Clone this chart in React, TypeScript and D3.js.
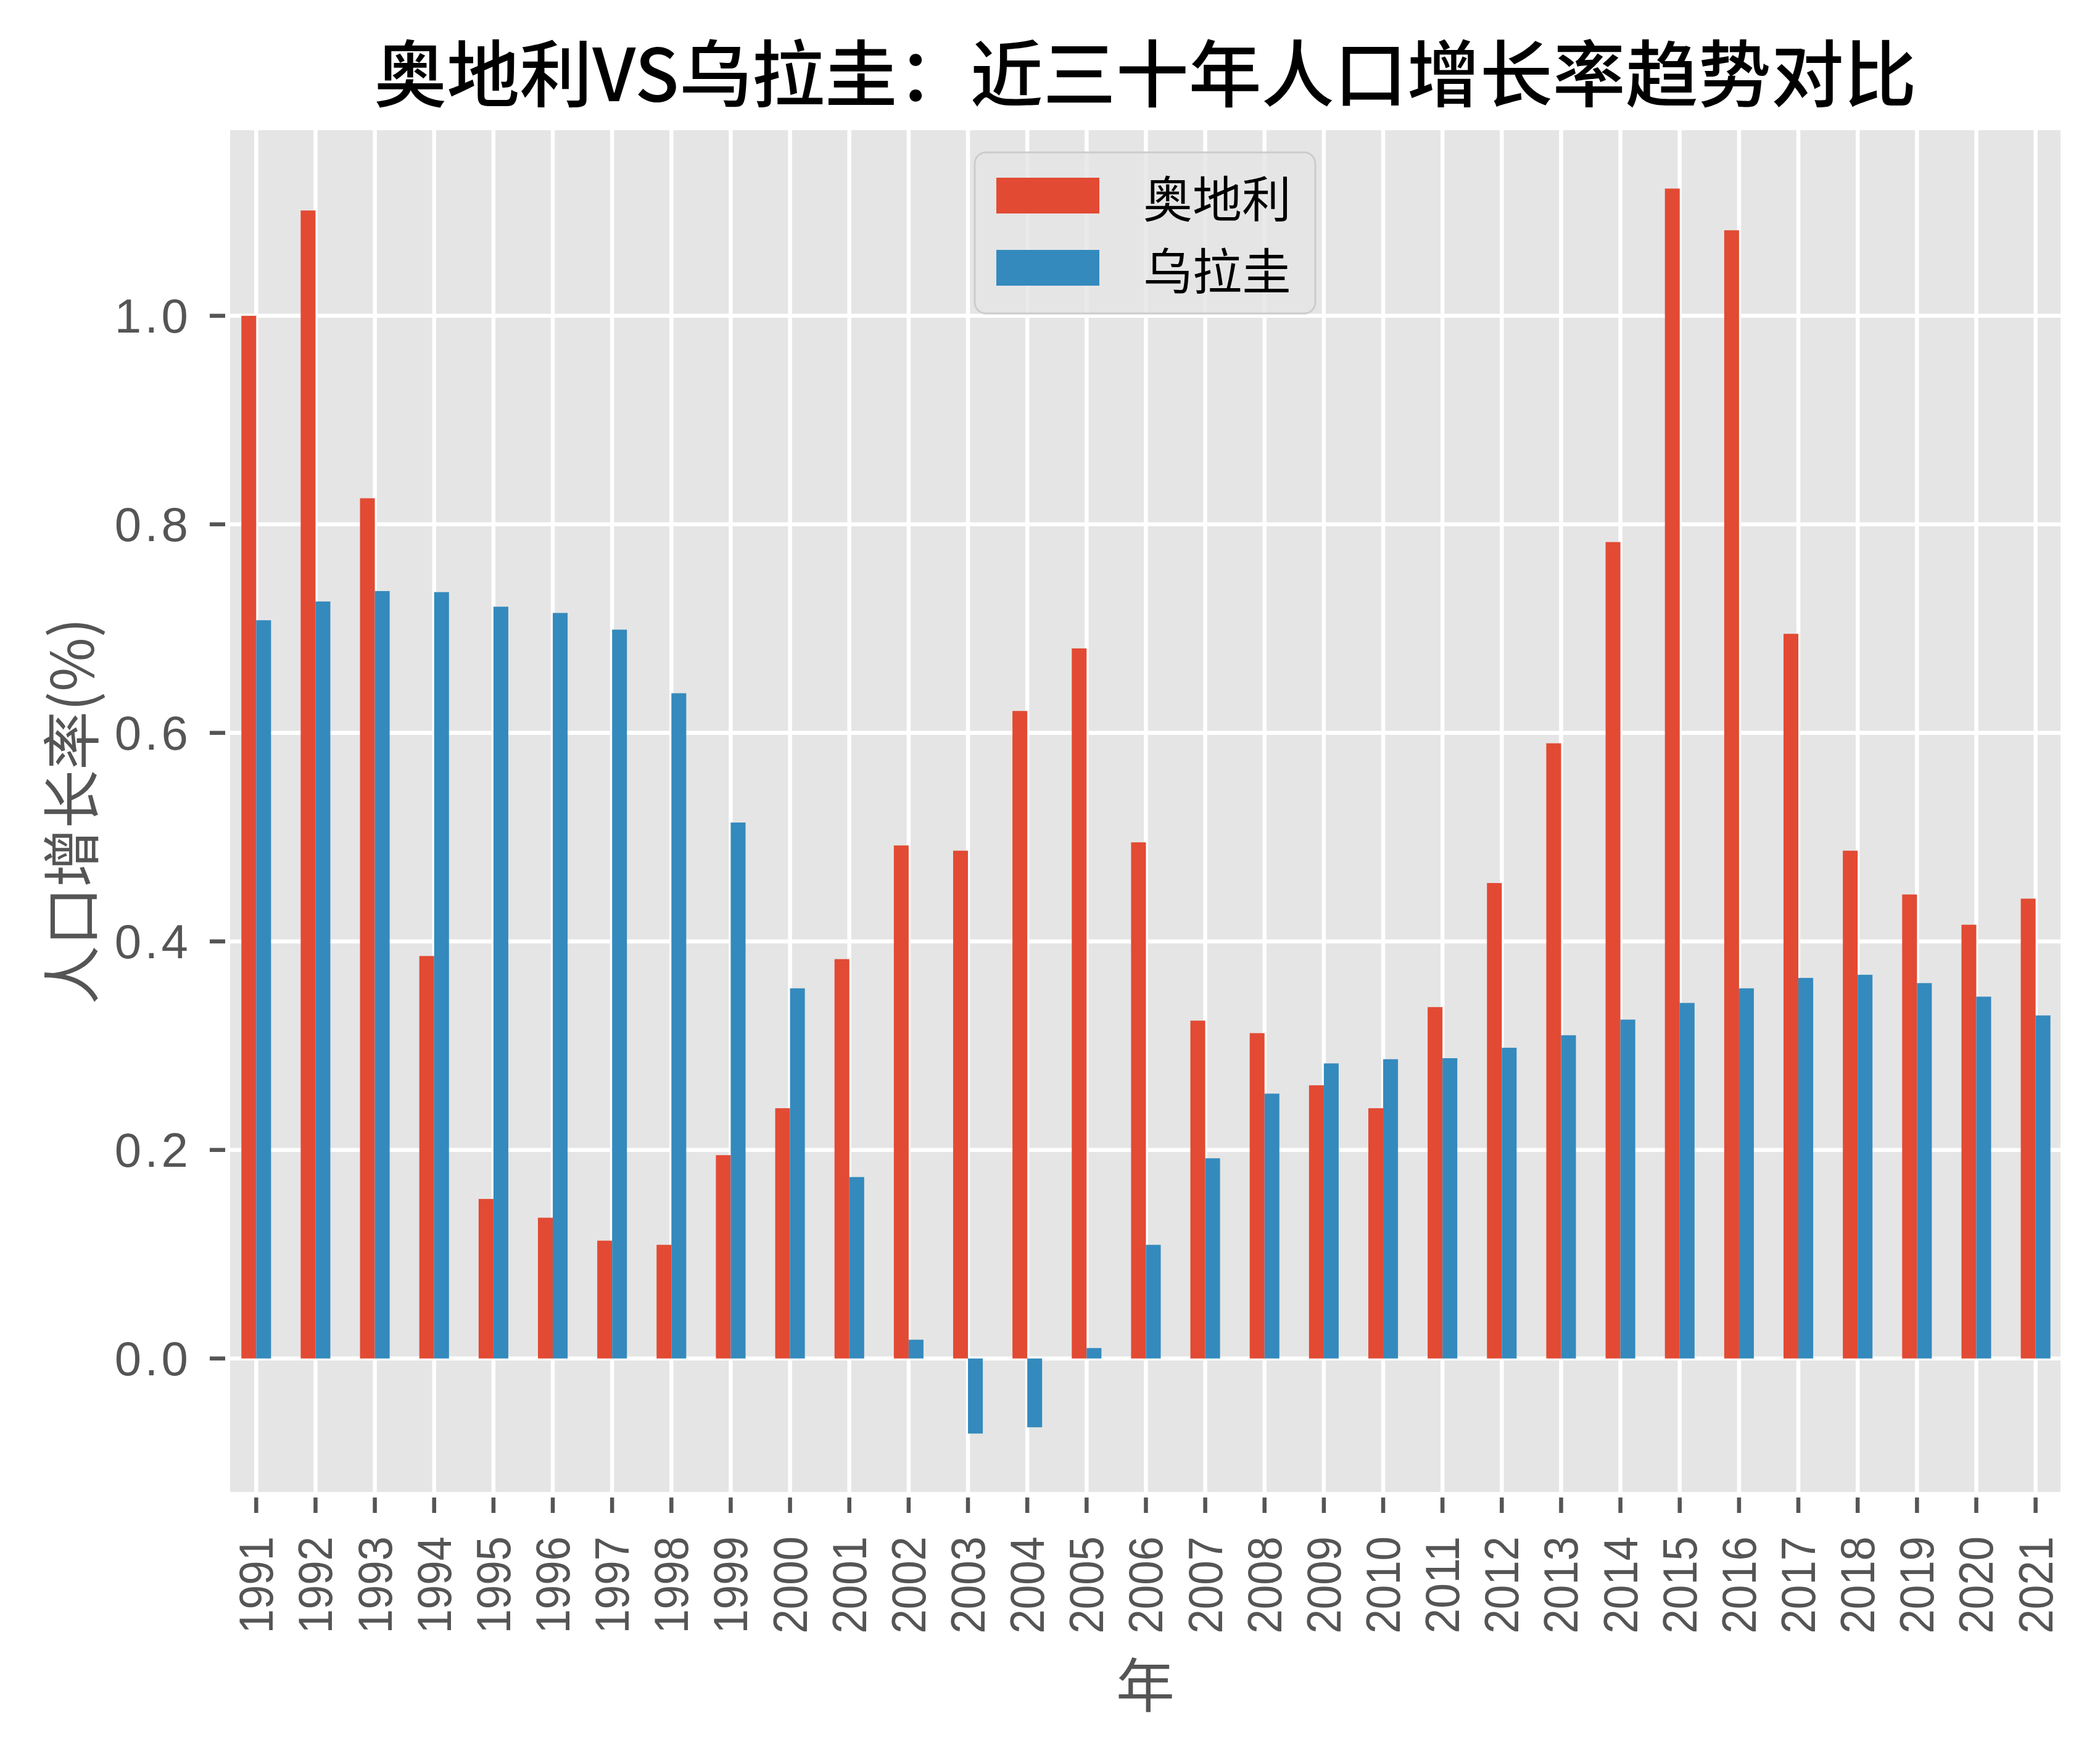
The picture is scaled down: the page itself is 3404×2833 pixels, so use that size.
import React from "react";
import * as d3 from "d3";

const years = [1991,1992,1993,1994,1995,1996,1997,1998,1999,2000,2001,2002,2003,2004,2005,2006,2007,2008,2009,2010,2011,2012,2013,2014,2015,2016,2017,2018,2019,2020,2021];
const austria = [1.0,1.101,0.825,0.386,0.153,0.135,0.113,0.109,0.195,0.240,0.383,0.492,0.487,0.621,0.681,0.495,0.324,0.312,0.262,0.240,0.337,0.456,0.590,0.783,1.122,1.082,0.695,0.487,0.445,0.416,0.441];
const uruguay = [0.708,0.726,0.736,0.735,0.721,0.715,0.699,0.638,0.514,0.355,0.174,0.018,-0.072,-0.066,0.010,0.109,0.192,0.254,0.283,0.287,0.288,0.298,0.310,0.325,0.341,0.355,0.365,0.368,0.360,0.347,0.329];
const yTicks = [0.0, 0.2, 0.4, 0.6, 0.8, 1.0];
const seriesNames = ["奥地利", "乌拉圭"];
const title = "奥地利VS乌拉圭：近三十年人口增长率趋势对比";
const xLabel = "年";
const yLabel = "人口增长率(%)";

const W = 3404, H = 2833;
const L = 373, R = 3340, T = 211, B = 2418;
const COLORS = ["#E24A33", "#348ABD"];
const CJK = "'Noto Sans CJK SC', sans-serif";
const NUM = "'Liberation Sans', Arial, sans-serif";
const TXT = "#555555";

export default function App() {
  const x = d3.scaleLinear().domain([-0.44, years.length - 1 + 0.42]).range([L, R]);
  const y = d3.scaleLinear().domain([-0.128, 1.178]).range([B, T]);
  const bw = 0.25;
  const tickFs = 78;
  const series = [austria, uruguay];

  return (
    <svg width={W} height={H} style={{ position: "absolute", left: 0, top: 0 }} xmlns="http://www.w3.org/2000/svg">
      <rect x={0} y={0} width={W} height={H} fill="#ffffff" />
      <rect x={L} y={T} width={R - L} height={B - T} fill="#E5E5E5" />
      {years.map((yr, i) => (
        <line key={"gx" + yr} x1={x(i)} x2={x(i)} y1={T} y2={B} stroke="#ffffff" strokeWidth={6.5} />
      ))}
      {yTicks.map((t) => (
        <line key={"gy" + t} x1={L} x2={R} y1={y(t)} y2={y(t)} stroke="#ffffff" strokeWidth={6.5} />
      ))}
      {series.map((vals, s) =>
        vals.map((v, i) => {
          const x0 = x(i + (s === 0 ? -bw : 0));
          const x1 = x(i + (s === 0 ? 0 : bw));
          const y0 = y(Math.max(0, v));
          const y1 = y(Math.min(0, v));
          return <rect key={s + "-" + i} x={x0} y={y0} width={x1 - x0} height={y1 - y0} fill={COLORS[s]} />;
        })
      )}
      {years.map((yr, i) => (
        <g key={"xt" + yr}>
          <line x1={x(i)} x2={x(i)} y1={B + 9} y2={B + 34} stroke={TXT} strokeWidth={6.5} />
          <text
            transform={`translate(${x(i)},${B + 72}) rotate(-90)`}
            textAnchor="end"
            dominantBaseline="central"
            fontFamily={NUM}
            fontSize={tickFs}
            fill={TXT}
            textLength={String(yr).length * 0.505 * tickFs}
            lengthAdjust="spacingAndGlyphs"
          >
            {yr}
          </text>
        </g>
      ))}
      {yTicks.map((t) => (
        <g key={"yt" + t}>
          <line x1={L - 33} x2={L - 8} y1={y(t)} y2={y(t)} stroke={TXT} strokeWidth={6.5} />
          <text
            x={L - 68}
            y={y(t)}
            textAnchor="end"
            dominantBaseline="central"
            fontFamily={NUM}
            fontSize={tickFs}
            fill={TXT}
            textLength={3 * 0.51 * tickFs}
            lengthAdjust="spacing"
          >
            {t.toFixed(1)}
          </text>
        </g>
      ))}
      <text x={(L + R) / 2} y={2725} textAnchor="middle" dominantBaseline="central" fontFamily={CJK} fontSize={95} fill={TXT}>
        {xLabel}
      </text>
      <text
        transform={`translate(110,${(T + B) / 2}) rotate(-90)`}
        textAnchor="middle"
        dominantBaseline="central"
        fontFamily={CJK}
        fontSize={95}
        fill={TXT}
      >
        {yLabel}
      </text>
      <text x={(L + R) / 2} y={112} textAnchor="middle" dominantBaseline="central" fontFamily={CJK} fontWeight={500} fontSize={118} fill="#000000">
        {title}
      </text>
      <g>
        <rect x={1580} y={247} width={552} height={261} rx={18} ry={18} fill="#E5E5E5" fillOpacity={0.8} stroke="#cccccc" strokeWidth={3} />
        {seriesNames.map((n, s) => (
          <g key={n}>
            <rect x={1615} y={288 + s * 117} width={167} height={58} fill={COLORS[s]} />
            <text x={1853} y={317 + s * 117} dominantBaseline="central" fontFamily={CJK} fontSize={80} fill="#000000">
              {n}
            </text>
          </g>
        ))}
      </g>
    </svg>
  );
}
